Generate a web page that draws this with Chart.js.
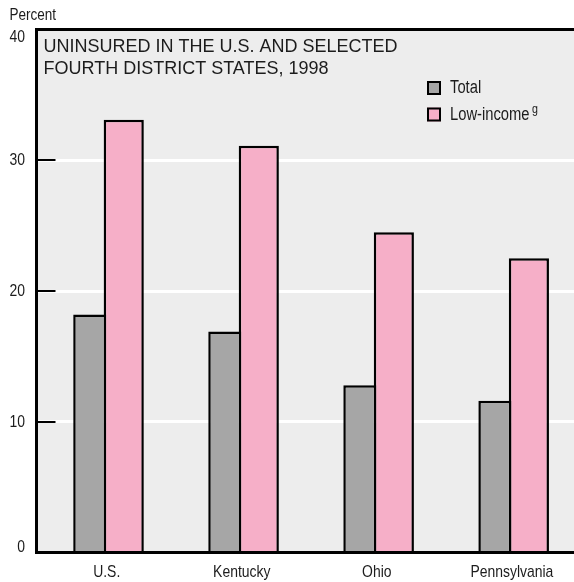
<!DOCTYPE html>
<html>
<head>
<meta charset="utf-8">
<script src="https://cdn.jsdelivr.net/npm/chart.js@4/dist/chart.umd.min.js"></script>
<style>
  html, body { margin: 0; padding: 0; background: #ffffff; overflow: hidden; }
  #wrap { width: 574px; height: 582px; position: relative; }
</style>
</head>
<body>
<div id="wrap"><canvas id="c" width="574" height="582"></canvas></div>
<script>
// Share of people without health insurance, 1998 (percent)
const categories = ['U.S.', 'Kentucky', 'Ohio', 'Pennsylvania'];
const totalPct = [18.2, 16.9, 12.8, 11.6];
const lowIncomePct = [33.1, 31.1, 24.5, 22.5];
const seriesNames = ['Total', 'Low-income'];
const yTicks = [0, 10, 20, 30, 40];
const titleLines = ['UNINSURED IN THE U.S. AND SELECTED', 'FOURTH DISTRICT STATES, 1998'];
const axisTitle = 'Percent';
const footnoteMark = 'g';

const SANS = "'Liberation Sans', Arial, sans-serif";
const CONDENSE = 0.82;          // horizontal squeeze for the condensed label face
const INK = '#1c1c1c';
const GRAY = '#a6a6a6';
const PINK = '#f6afc8';
const PANEL = '#ededed';

const toPoints = vals => vals.map((v, i) => ({ x: i, y: v }));

// condensed text: regular sans squeezed horizontally around its anchor
function narrowText(ctx, text, x, y, size, align, baseline) {
  ctx.save();
  ctx.font = size + 'px ' + SANS;
  ctx.textAlign = align;
  ctx.textBaseline = baseline;
  ctx.translate(x, y);
  ctx.scale(CONDENSE, 1);
  ctx.fillText(text, 0, 0);
  const w = ctx.measureText(text).width * CONDENSE;
  ctx.restore();
  return w;
}

const decor = {
  id: 'decor',
  beforeDraw(chart) {
    const { ctx, chartArea: a } = chart;
    ctx.save();
    ctx.fillStyle = PANEL;
    ctx.fillRect(a.left, a.top, a.right - a.left, a.bottom - a.top);
    ctx.restore();
  },
  afterDraw(chart) {
    const { ctx, chartArea: a } = chart;
    const ys = chart.scales.y;
    const xs = chart.scales.x;
    ctx.save();

    // short inward tick marks on the value axis
    ctx.strokeStyle = '#000';
    ctx.lineWidth = 2;
    yTicks.forEach(v => {
      if (v === ys.min || v === ys.max) return;
      const py = Math.round(ys.getPixelForValue(v));
      ctx.beginPath();
      ctx.moveTo(a.left, py);
      ctx.lineTo(a.left + 19, py);
      ctx.stroke();
    });

    ctx.fillStyle = INK;

    // value labels, kept inside the panel height at both ends
    yTicks.forEach(v => {
      let py = ys.getPixelForValue(v);
      py = Math.min(Math.max(py, a.top + 7.5), a.bottom - 5.5);
      narrowText(ctx, String(v), 25, py + 0.5, 17, 'right', 'middle');
    });

    // category labels under each group
    xs.ticks.forEach(t => {
      narrowText(ctx, categories[t.value], xs.getPixelForValue(t.value), 577, 17, 'center', 'alphabetic');
    });

    // axis unit
    narrowText(ctx, axisTitle, 9.5, 20, 16.5, 'left', 'alphabetic');

    // title inside the panel
    ctx.font = '18px ' + SANS;
    ctx.textAlign = 'left';
    ctx.textBaseline = 'alphabetic';
    ctx.fillText(titleLines[0], a.left + 7, 52);
    ctx.fillText(titleLines[1], a.left + 7, 74);

    // legend
    const colors = [GRAY, PINK];
    seriesNames.forEach((name, i) => {
      const top = 81 + i * 26.5;
      ctx.fillStyle = colors[i];
      ctx.fillRect(427, top, 14, 14);
      ctx.strokeStyle = '#000';
      ctx.lineWidth = 2;
      ctx.strokeRect(428, top + 1, 12, 12);
      ctx.fillStyle = INK;
      const w = narrowText(ctx, name, 450, top + 7.5, 18, 'left', 'middle');
      if (i === 1) {
        narrowText(ctx, footnoteMark, 450 + w + 2.5, top + 2, 13, 'left', 'middle');
      }
    });
    ctx.restore();
  }
};

new Chart(document.getElementById('c'), {
  type: 'bar',
  data: {
    datasets: [
      {
        label: seriesNames[0],
        data: toPoints(totalPct),
        backgroundColor: GRAY,
        borderColor: '#000',
        borderWidth: 2.5,
        borderSkipped: 'start',
        barPercentage: 0.97,
        categoryPercentage: 0.504
      },
      {
        label: seriesNames[1],
        data: toPoints(lowIncomePct),
        backgroundColor: PINK,
        borderColor: '#000',
        borderWidth: 2.5,
        borderSkipped: 'start',
        barPercentage: 1.18,
        categoryPercentage: 0.504
      }
    ]
  },
  options: {
    responsive: false,
    animation: false,
    devicePixelRatio: 1,
    layout: { padding: { left: 36.5, top: 29.5, right: 0, bottom: 0 } },
    plugins: { legend: { display: false }, tooltip: { enabled: false }, title: { display: false } },
    scales: {
      x: {
        type: 'linear',
        offset: false,
        min: -0.52,
        max: 3.46,
        afterBuildTicks: s => { s.ticks = categories.map((_, i) => ({ value: i })); },
        afterFit: s => { s.height = 29.5; },
        ticks: { display: false },
        grid: { display: false, drawTicks: false },
        border: { display: true, color: '#000', width: 3 }
      },
      y: {
        min: 0,
        max: 40,
        afterBuildTicks: s => { s.ticks = yTicks.map(v => ({ value: v })); },
        afterFit: s => { s.width = 0; },
        ticks: { display: false },
        grid: {
          drawTicks: false,
          lineWidth: 3,
          color: c => c.tick.value === 40 ? '#000' : (c.tick.value === 0 ? 'rgba(0,0,0,0)' : '#ffffff')
        },
        border: { display: true, color: '#000', width: 3 }
      }
    }
  },
  plugins: [decor]
});
</script>
</body>
</html>
